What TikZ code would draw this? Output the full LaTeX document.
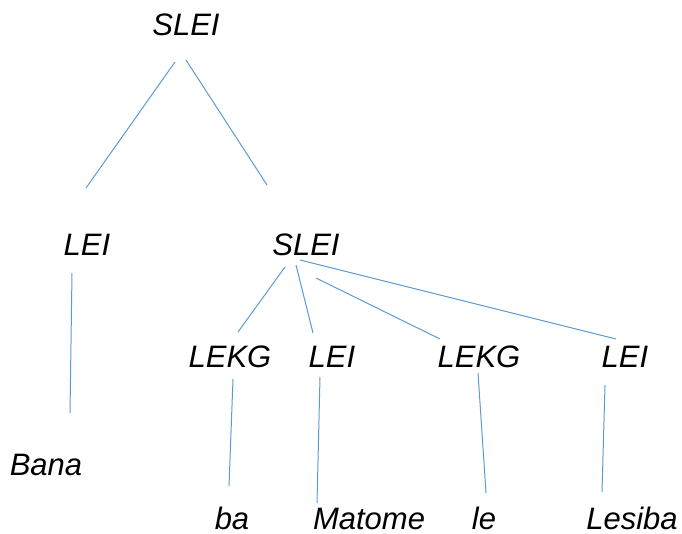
\documentclass[tikz,border=0pt]{standalone}
\usepackage{fontspec}
\setmainfont{Liberation Sans}
\usetikzlibrary{positioning}
\definecolor{treeblue}{HTML}{5B9BD5}
\tikzset{
  word/.style={anchor=base, inner sep=0pt, font=\fontsize{31}{36}\selectfont\itshape}, % every label of the tree
  branch/.style={draw=treeblue, line width=1pt}, % the thin blue lines
}
\begin{document}
\begin{tikzpicture}[x=1pt,y=-1pt]
  \useasboundingbox (0,0) rectangle (682,533);
  % labels, placed on their baselines
  \node[word] (root) at (186,35) {SLEI};
  \node[word] (lei) at (87,255) {LEI};
  \node[word] (slei) at (306,255) {SLEI};
  \node[word] (lekg) at (230,367) {LEKG};
  \node[word] (leim) at (332,367) {LEI};
  \node[word] (lekgr) at (479,367) {LEKG};
  \node[word] (leir) at (625,367) {LEI};
  \node[word] (bana) at (46,475) {Bana};
  \node[word] (ba) at (232,529) {ba};
  \node[word] (matome) at (369,529) {Matome};
  \node[word] (le) at (484,529) {le};
  \node[word] (lesiba) at (632,529) {Lesiba};

  % ends of the branches
  \coordinate (root-l) at (175,62);
  \coordinate (root-r) at (186,60);
  \coordinate (lei-t) at (86,188);
  \coordinate (lei-b) at (72,273);
  \coordinate (slei-t) at (267,185);
  \coordinate (slei-a) at (285,267);
  \coordinate (slei-b) at (296,265);
  \coordinate (slei-c) at (316,278);
  \coordinate (slei-d) at (300,260);
  \coordinate (lekg-t) at (238,332);
  \coordinate (lekg-b) at (233,379);
  \coordinate (leim-t) at (313,333);
  \coordinate (leim-b) at (320,377);
  \coordinate (lekgr-t) at (440,339);
  \coordinate (lekgr-b) at (478,373);
  \coordinate (leir-t) at (616,339);
  \coordinate (leir-b) at (605,385);
  \coordinate (bana-t) at (70,413);
  \coordinate (ba-t) at (229,486);
  \coordinate (matome-t) at (317,503);
  \coordinate (le-t) at (486,493);
  \coordinate (lesiba-t) at (602,492);

  \path[branch]
  (root-l) edge (lei-t)
  (root-r) edge (slei-t)
  (lei-b) edge (bana-t)
  (slei-a) edge (lekg-t)
  (slei-b) edge (leim-t)
  (slei-c) edge (lekgr-t)
  (slei-d) edge (leir-t)
  (lekg-b) edge (ba-t)
  (leim-b) edge (matome-t)
  (lekgr-b) edge (le-t)
  (leir-b) edge (lesiba-t);
\end{tikzpicture}
\end{document}
